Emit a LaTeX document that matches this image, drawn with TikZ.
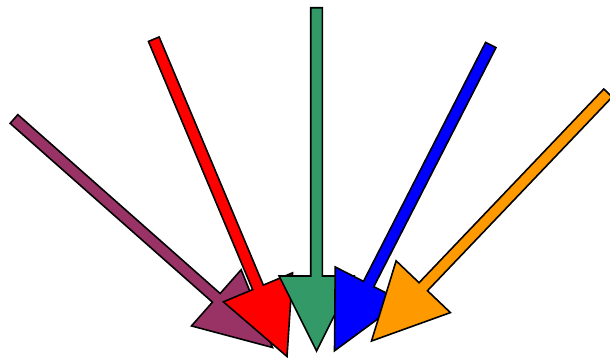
\documentclass[tikz,border=0pt]{standalone}
\usetikzlibrary{calc}
\definecolor{fanplum}{HTML}{993366}
\definecolor{fanred}{HTML}{FF0000}
\definecolor{fangreen}{HTML}{339966}
\definecolor{fanblue}{HTML}{0000FF}
\definecolor{fanorange}{HTML}{FF9900}

\begin{document}
\begin{tikzpicture}[
    x=1pt,y=-1pt,
    fatarrow/.style={draw=black,line width=1.6pt,line join=miter}
  ]
    \useasboundingbox (0,0) rectangle (610,363);

    \coordinate (plum-tail) at (14,119);
    \coordinate (plum-tip) at (272.5,347.5);
    \coordinate (red-tail) at (153.8,39.2);
    \coordinate (red-tip) at (287,356.5);
    \coordinate (green-tail) at (316.5,7.8);
    \coordinate (green-tip) at (316.6,351);
    \coordinate (blue-tail) at (490.8,45);
    \coordinate (blue-tip) at (334.5,350.8);
    \coordinate (orange-tail) at (608,93);
    \coordinate (orange-tip) at (371.5,341);

    \foreach \a/\c in {plum/fanplum,red/fanred,green/fangreen,blue/fanblue,orange/fanorange}{
      \coordinate (\a-base) at ($(\a-tip)!75pt!(\a-tail)$);
      \filldraw[fatarrow,fill=\c]
        ($(\a-tail)!5.8pt!90:(\a-tip)$) -- ($(\a-base)!5.8pt!90:(\a-tip)$)
        -- ($(\a-base)!37.5pt!90:(\a-tip)$) -- (\a-tip)
        -- ($(\a-base)!37.5pt!-90:(\a-tip)$) -- ($(\a-base)!5.8pt!-90:(\a-tip)$)
        -- ($(\a-tail)!5.8pt!-90:(\a-tip)$) -- cycle;
    }
\end{tikzpicture}
\end{document}
